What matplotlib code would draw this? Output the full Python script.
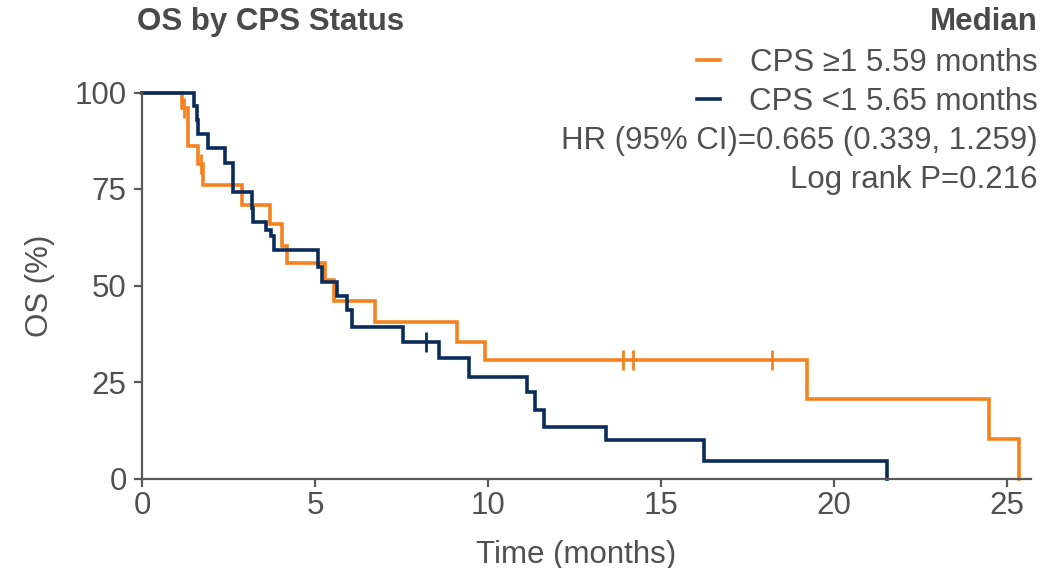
import matplotlib
matplotlib.use("Agg")
import matplotlib.pyplot as plt
from matplotlib.lines import Line2D
import numpy as np

plt.rcParams['font.family'] = ['Liberation Sans', 'DejaVu Sans']

# Kaplan-Meier step data: event times (months) and survival (%) after each step
times_hi = [0, 1.15, 1.32, 1.63, 1.77, 2.88, 3.70, 4.06, 4.18, 5.29, 5.56, 6.73,
            9.11, 9.91, 19.21, 24.50, 25.36]
surv_hi = [100, 95.9, 86.2, 81.6, 76.0, 70.9, 65.9, 60.3, 55.7, 51.4, 46.1, 40.6,
           35.4, 30.7, 20.5, 10.2, 0]
censor_hi = [1.22, 1.70, 13.90, 14.20, 18.20]

times_lo = [0, 1.51, 1.58, 1.63, 1.90, 2.40, 2.64, 3.17, 3.22, 3.58, 3.72, 3.83,
            5.10, 5.19, 5.63, 5.92, 6.06, 7.55, 8.59, 9.46, 11.12, 11.37, 11.62,
            13.42, 16.25, 21.54]
surv_lo = [100, 96.5, 92.9, 89.2, 85.6, 81.7, 74.1, 70.0, 66.5, 64.4, 62.8, 59.2,
           54.9, 50.8, 47.3, 43.7, 39.3, 35.4, 31.1, 26.4, 22.5, 17.7, 13.3,
           9.9, 4.6, 0]
censor_lo = [8.22]

x_ticks = [0, 5, 10, 15, 20, 25]
y_ticks = [0, 25, 50, 75, 100]

legend_labels = ["CPS \u22651 5.59 months", "CPS <1 5.65 months"]
stats_lines = ["HR (95% CI)=0.665 (0.339, 1.259)", "Log rank P=0.216"]

ORANGE = '#F58220'
NAVY = '#0A2C5A'
GRAY = '#595959'
TEXT = '#505050'
FS = 22.5

W, H = 1056, 568
fig = plt.figure(figsize=(W / 100, H / 100), dpi=100)
x0, x1, y0, y1 = 142, 1031, 478.5, 92.5
ax = fig.add_axes([x0 / W, 1 - y0 / H, (x1 - x0) / W, (y0 - y1) / H])


def surv_at(times, surv, t):
    idx = np.searchsorted(times, t, side='right') - 1
    return surv[idx]


for times, surv, cens, col in [(times_hi, surv_hi, censor_hi, ORANGE),
                                (times_lo, surv_lo, censor_lo, NAVY)]:
    ax.step(times, surv, where='post', color=col, lw=2.6, clip_on=False,
            solid_joinstyle='miter')
    cy = [surv_at(times, surv, c) for c in cens]
    ax.plot(cens, cy, linestyle='none', marker='|', markersize=14,
            markeredgewidth=2.0, color=col, clip_on=False)

ax.set_xlim(0, 25.7)
ax.set_ylim(0, 100)
ax.set_xticks(x_ticks)
ax.set_yticks(y_ticks)
for s in ['top', 'right']:
    ax.spines[s].set_visible(False)
for s in ['left', 'bottom']:
    ax.spines[s].set_color(GRAY)
    ax.spines[s].set_linewidth(1.6)
ax.tick_params(axis='both', direction='out', length=6, width=1.6, color=GRAY,
               labelcolor=TEXT, labelsize=FS)
ax.tick_params(axis='y', pad=5)
ax.tick_params(axis='x', pad=3)
ax.set_xlabel("Time (months)", fontsize=FS, color=TEXT)
ax.xaxis.set_label_coords((576 - x0) / (x1 - x0), -(563 - y0) / (y0 - y1))
ax.xaxis.label.set_va('baseline')
ax.set_ylabel("OS (%)", fontsize=FS, color=TEXT, labelpad=14)

# Title and annotation block
fig.text(137 / W, 1 - 30 / H, "OS by CPS Status", fontsize=FS, fontweight='bold',
         color='#4a4a4a', ha='left', va='baseline')
fig.text(1038 / W, 1 - 30 / H, "Median", fontsize=FS, fontweight='bold',
         color='#4a4a4a', ha='right', va='baseline')
for i, (lab, col) in enumerate(zip(legend_labels, [ORANGE, NAVY])):
    yb = 71 + 39 * i
    fig.text(1038 / W, 1 - yb / H, lab, fontsize=FS, color=TEXT,
             ha='right', va='baseline')
    yc = 1 - (yb - 11) / H
    fig.add_artist(Line2D([697 / W, 720 / W], [yc, yc], color=col, lw=2.6))
for i, lab in enumerate(stats_lines):
    yb = 149 + 39 * i
    fig.text(1038 / W, 1 - yb / H, lab, fontsize=FS, color=TEXT,
             ha='right', va='baseline')

fig.savefig("out.png", dpi=100)
